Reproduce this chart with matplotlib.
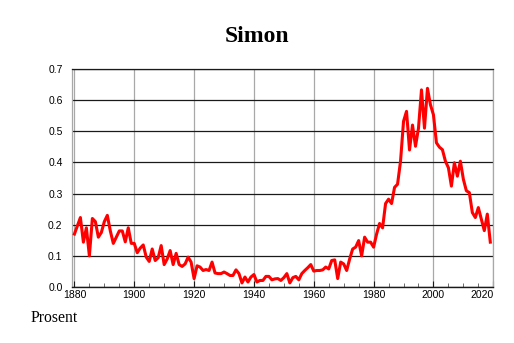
import numpy as np
import matplotlib
matplotlib.use("Agg")
import matplotlib.pyplot as plt
from matplotlib.ticker import MultipleLocator

# data (share of population, percent)
years = np.arange(1880, 2020)
values = [
    0.170, 0.197, 0.223, 0.144, 0.190, 0.100, 0.220, 0.210, 0.160, 0.175,  # 1880s
    0.210, 0.230, 0.180, 0.140, 0.160, 0.180, 0.180, 0.145, 0.190, 0.140,  # 1890s
    0.140, 0.110, 0.125, 0.135, 0.096, 0.082, 0.122, 0.085, 0.094, 0.133,  # 1900s
    0.072, 0.090, 0.117, 0.072, 0.108, 0.072, 0.066, 0.074, 0.096, 0.080,  # 1910s
    0.027, 0.068, 0.064, 0.053, 0.056, 0.053, 0.080, 0.045, 0.043, 0.043,  # 1920s
    0.048, 0.043, 0.037, 0.037, 0.055, 0.043, 0.013, 0.032, 0.016, 0.032,  # 1930s
    0.040, 0.016, 0.021, 0.021, 0.034, 0.034, 0.023, 0.026, 0.027, 0.021,  # 1940s
    0.030, 0.043, 0.013, 0.030, 0.034, 0.023, 0.043, 0.053, 0.062, 0.072,  # 1950s
    0.051, 0.053, 0.053, 0.055, 0.064, 0.058, 0.085, 0.087, 0.027, 0.080,  # 1960s
    0.074, 0.053, 0.090, 0.122, 0.128, 0.149, 0.100, 0.160, 0.144, 0.144,  # 1970s
    0.128, 0.170, 0.204, 0.190, 0.268, 0.282, 0.268, 0.320, 0.330, 0.404,  # 1980s
    0.532, 0.564, 0.440, 0.520, 0.452, 0.510, 0.633, 0.510, 0.638, 0.585,  # 1990s
    0.553, 0.463, 0.449, 0.441, 0.404, 0.383, 0.324, 0.399, 0.356, 0.404,  # 2000s
    0.346, 0.309, 0.303, 0.239, 0.223, 0.255, 0.218, 0.181, 0.234, 0.144,  # 2010s
]
xticks = np.arange(1880, 2021, 20)
yticks = np.arange(0, 0.71, 0.1)

plt.rcParams['font.family'] = ['Liberation Sans', 'DejaVu Sans']

fig = plt.figure(figsize=(5.14, 3.43), dpi=100)
ax = fig.add_axes([0.1407, 0.1633, 0.8190, 0.6355])

ax.plot(years, values, color='#ff0000', linewidth=2.2, zorder=3)

ax.set_xlim(1879.3, 2020)
ax.set_ylim(0, 0.7)
ax.set_xticks(xticks)
ax.xaxis.set_minor_locator(MultipleLocator(5))
ax.set_yticks(yticks)
ax.set_yticklabels(['%.1f' % v for v in yticks])

# grid: grey verticals, dark horizontals
ax.grid(axis='x', which='major', color='#a8a8a8', linewidth=0.9, zorder=1)
ax.grid(axis='y', which='major', color='#1a1a1a', linewidth=0.9, zorder=2)
ax.set_axisbelow(True)

ax.tick_params(axis='x', which='major', direction='in', length=4, width=0.8,
               labelsize=7.5, pad=2, color='#1a1a1a')
ax.tick_params(axis='x', which='minor', direction='in', length=3, width=0.6,
               color='#555555')
ax.tick_params(axis='y', which='major', length=0, labelsize=7.5, pad=7)

labels = ax.get_xticklabels()
labels[-1].set_horizontalalignment('right')

for side in ['left', 'right']:
    ax.spines[side].set_color('#a8a8a8')
    ax.spines[side].set_linewidth(0.9)
ax.spines['bottom'].set_color('#1a1a1a')
ax.spines['bottom'].set_linewidth(1.0)
ax.spines['top'].set_color('#1a1a1a')
ax.spines['top'].set_linewidth(0.9)

fig.text(0.5, 0.878, 'Simon', ha='center', va='baseline', fontsize=17,
         fontweight='bold', family=['Liberation Serif', 'DejaVu Serif'])
fig.text(0.060, 0.073, 'Prosent', ha='left', va='center', fontsize=11.3,
         family=['Liberation Serif', 'DejaVu Serif'])

fig.savefig('out.png', dpi=100)
